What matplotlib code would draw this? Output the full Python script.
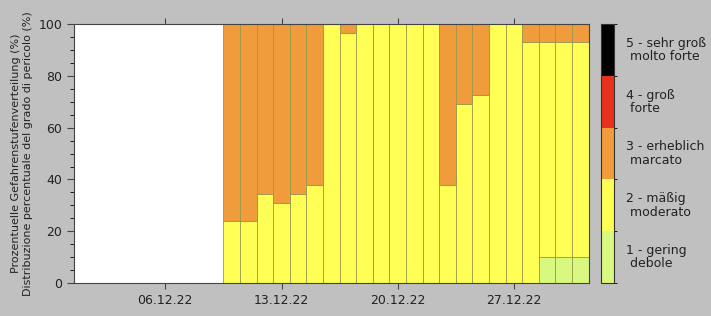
import datetime as dt
import numpy as np
import matplotlib
matplotlib.use("Agg")
import matplotlib.pyplot as plt
import matplotlib.dates as mdates
from matplotlib.colors import ListedColormap, BoundaryNorm
from matplotlib.colorbar import ColorbarBase

# days of December 2022 with a forecast
days = list(range(10, 32))
# percentage share of each danger level per day
level1 = [0, 0, 0, 0, 0, 0, 0, 0, 0, 0, 0, 0, 0, 0, 0, 0, 0, 0, 0, 10, 10, 10]
level2 = [24, 24, 34.5, 31, 34.5, 38, 100, 96.5, 100, 100, 100, 100, 100,
          38, 69, 72.5, 100, 100, 93, 83, 83, 83]
level3 = [76, 76, 65.5, 69, 65.5, 62, 0, 3.5, 0, 0, 0, 0, 0,
          62, 31, 27.5, 0, 0, 7, 7, 7, 7]

level_labels = ["1 - gering\n debole", "2 - mäßig\n moderato",
                "3 - erheblich\n marcato", "4 - groß\n forte",
                "5 - sehr groß\n molto forte"]
level_colors = ["#d8f880", "#ffff55", "#f09c3c", "#e8321e", "#000000"]

tick_days = [6, 13, 20, 27]

dates = [dt.datetime(2022, 12, d) for d in days]
x = mdates.date2num(dates)

fig = plt.figure(figsize=(7.11, 3.16), dpi=100, facecolor="#c0c0c0")
ax = fig.add_axes([0.104, 0.104, 0.724, 0.82])
ax.set_facecolor("white")

bottom = np.zeros(len(days))
for vals, col in zip([level1, level2, level3], level_colors[:3]):
    vals = np.array(vals, dtype=float)
    ax.bar(x, vals, width=1.0, bottom=bottom, color=col,
           edgecolor="#9a9a48", linewidth=0.6)
    bottom += vals

ax.set_xlim(mdates.date2num(dt.datetime(2022, 11, 30, 12)),
            mdates.date2num(dt.datetime(2022, 12, 31, 12)))
ax.set_ylim(0, 100)
ax.set_xticks(mdates.date2num([dt.datetime(2022, 12, d) for d in tick_days]))
ax.xaxis.set_major_formatter(mdates.DateFormatter("%d.%m.%y"))
ax.set_yticks(range(0, 101, 20))
ax.set_yticks(range(0, 101, 5), minor=True)
ax.tick_params(axis="both", labelsize=9, color="#444444", labelcolor="#222222")
ax.tick_params(axis="x", top=True, direction="out", length=4)
ax.tick_params(axis="y", which="major", length=5)
ax.tick_params(axis="y", which="minor", length=3)
for s in ax.spines.values():
    s.set_color("#444444")
    s.set_linewidth(0.8)
ax.set_ylabel("Prozentuelle Gefahrenstufenverteilung (%)\n"
              "Distribuzione percentuale del grado di pericolo (%)",
              fontsize=8, color="#222222", labelpad=4)

cax = fig.add_axes([0.845, 0.104, 0.018, 0.82])
cmap = ListedColormap(level_colors)
norm = BoundaryNorm(np.arange(0.5, 6.5, 1), cmap.N)
cb = ColorbarBase(cax, cmap=cmap, norm=norm, orientation="vertical")
cb.set_ticks([])
cb.outline.set_edgecolor("#333333")
cb.outline.set_linewidth(0.8)
for i, lab in enumerate(level_labels):
    cax.text(2.0, i + 1, lab, transform=cax.get_yaxis_transform(),
             va="center", ha="left", fontsize=9, color="#222222",
             linespacing=1.05)

fig.savefig("out.png", dpi=100, facecolor=fig.get_facecolor())
